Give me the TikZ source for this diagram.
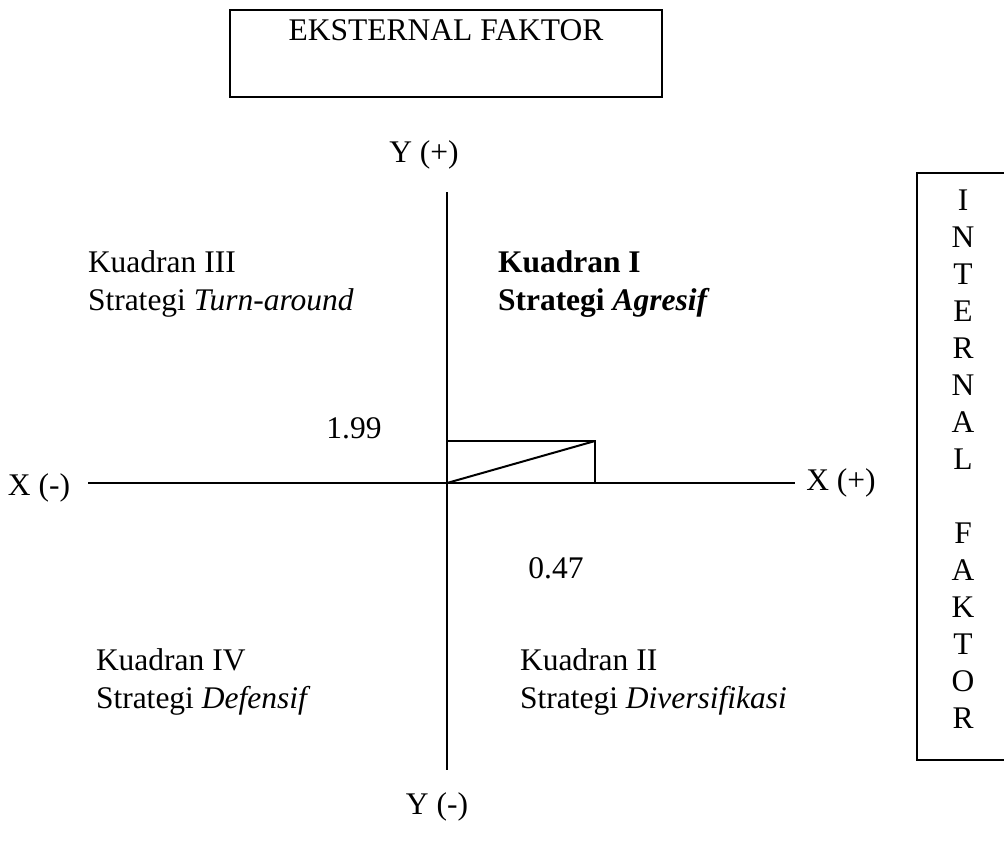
\documentclass[tikz,border=0pt]{standalone}
\usepackage{fontspec}
\setmainfont{Liberation Serif}
\usepackage{tikz}
\newcommand{\kuad}[2]{Kuadran #1\\Strategi \textit{#2}}

\begin{document}
\begin{tikzpicture}[x=0.5pt,y=-0.5pt,line width=1pt,
  every node/.style={font=\fontsize{15.75}{18.6}\selectfont,inner sep=0pt},
  kotak/.style={draw,line width=1pt}]
\useasboundingbox (0,0) rectangle (1004,850);
% kotak atas
\node[kotak,minimum width=216pt,minimum height=43.5pt] (ekst) at (446,53.5) {};
\node (ekstlbl) at (446,30) {EKSTERNAL FAKTOR};
% sumbu
\coordinate (ytop) at (447,192);
\coordinate (ybot) at (447,770);
\coordinate (xleft) at (88,483);
\coordinate (xright) at (795,483);
\draw (ytop) -- (ybot);
\draw (xleft) -- (xright);
\node (ypos) at (424,155) {Y (+)};
\node (yneg) at (437,807) {Y (-)};
\node (xneg) at (39,488) {X (-)};
\node (xpos) at (841,483) {X (+)};
% titik
\coordinate (o) at (447,483);
\coordinate (p) at (595,441);
\draw (o) rectangle (p);
\draw (o) -- (p);
\node (ni) at (354,428) {1.99};
\node (ne) at (556,568) {0.47};
% kuadran
\node[align=left,anchor=west] (k3) at (87,284) {\kuad{III}{Turn-around}};
\node[align=left,anchor=west,font=\fontsize{15.75}{18.6}\selectfont\bfseries] (k1) at (497,284) {\kuad{I}{Agresif}};
\node[align=left,anchor=west] (k4) at (95,682) {\kuad{IV}{Defensif}};
\node[align=left,anchor=west] (k2) at (519,682) {\kuad{II}{Diversifikasi}};
% kotak kanan
\draw[kotak] (917,173) rectangle (1012,760);
\node[align=center,font=\fontsize{15.75}{18.5}\selectfont] (intern) at (963,459)
  {I\\N\\T\\E\\R\\N\\A\\L\\~\\F\\A\\K\\T\\O\\R};
\end{tikzpicture}
\end{document}
